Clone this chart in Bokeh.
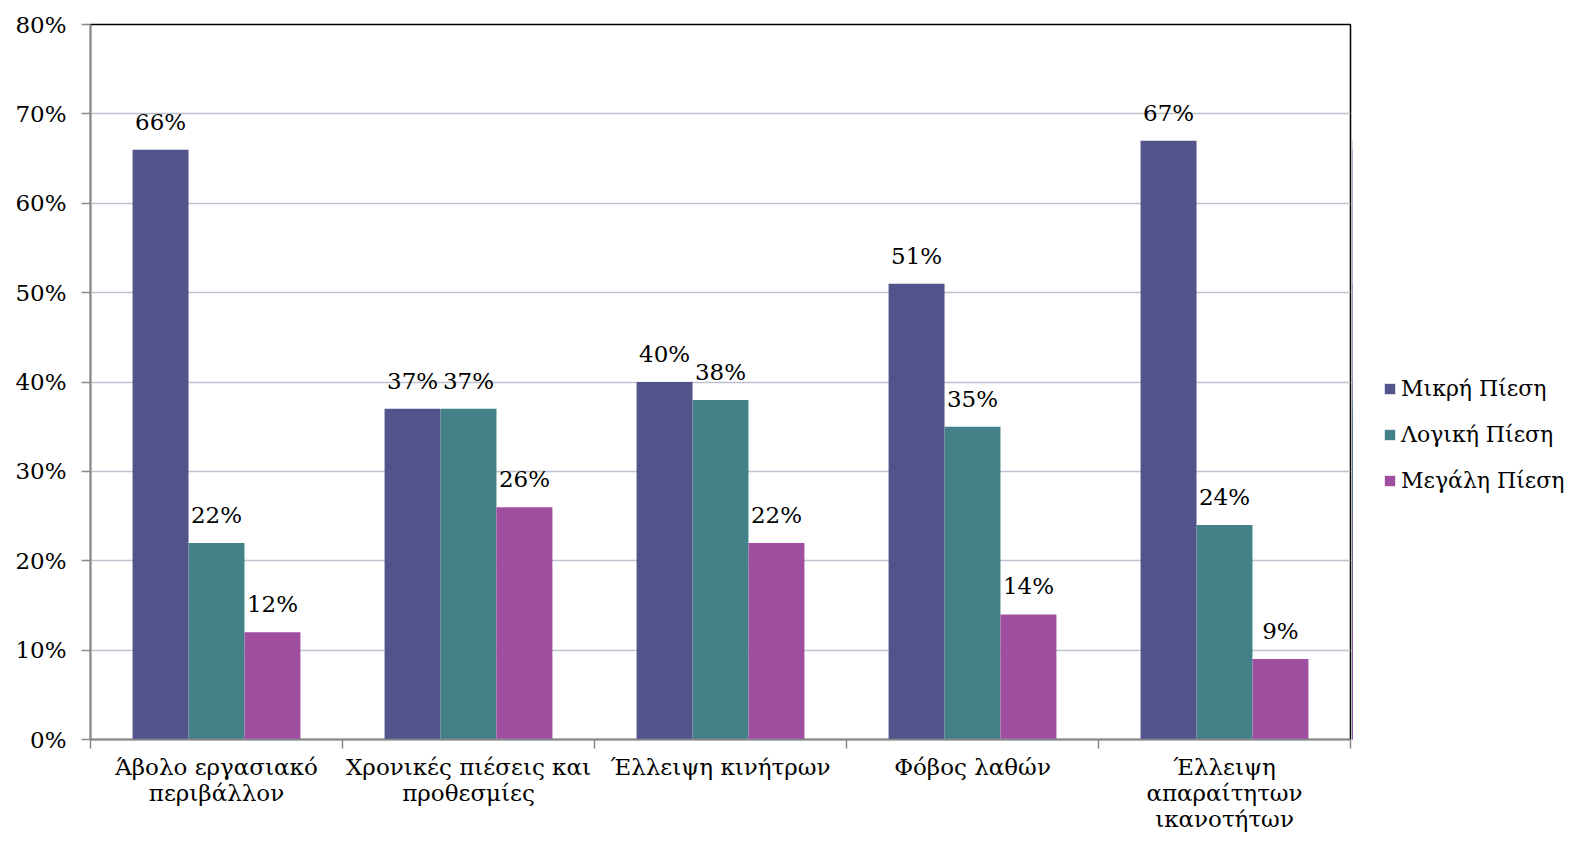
from bokeh.plotting import figure
from bokeh.layouts import row
from bokeh.models import Range1d, FixedTicker, PrintfTickFormatter, LinearAxis, Legend, LegendItem, ColumnDataSource
from bokeh.embed import file_html
from bokeh.resources import INLINE
from bokeh.core.properties import value

categories = ["Άβολο εργασιακό\nπεριβάλλον", "Χρονικές πιέσεις και\nπροθεσμίες", "Έλλειψη κινήτρων",
              "Φόβος λαθών", "Έλλειψη\nαπαραίτητων\nικανοτήτων"]
series = ["Μικρή Πίεση", "Λογική Πίεση", "Μεγάλη Πίεση"]
mikri = [66, 37, 40, 51, 67]
logiki = [22, 37, 38, 35, 24]
megali = [12, 26, 22, 14, 9]
colors = ["#52538A", "#438087", "#A04EA0"]
y_ticks = [0, 10, 20, 30, 40, 50, 60, 70, 80]

FONT = "DejaVu Serif"
FS = "23px"
H = 839
W_MAIN = 1352
W_LEG = 219

p = figure(width=W_MAIN, height=H, output_backend="svg", toolbar_location=None,
           x_range=Range1d(0, len(categories)), y_range=Range1d(0, 80),
           min_border_left=90, min_border_top=24, min_border_bottom=100, min_border_right=2)
p.background_fill_color = "white"
p.border_fill_color = "white"
p.outline_line_color = "black"
p.outline_line_width = 1.5

p.xgrid.grid_line_color = None
p.ygrid.grid_line_color = "#BEC2CE"
p.ygrid.grid_line_width = 1.5
p.ygrid.ticker = FixedTicker(ticks=y_ticks)

yax = p.yaxis[0]
yax.ticker = FixedTicker(ticks=y_ticks)
yax.formatter = PrintfTickFormatter(format="%d%%")
yax.axis_line_color = "#8A8A8A"
yax.axis_line_width = 1.5
yax.major_tick_line_color = "#8A8A8A"
yax.major_tick_line_width = 1.5
yax.major_tick_out = 9
yax.major_tick_in = 0
yax.minor_tick_line_color = None
yax.major_label_text_font = FONT
yax.major_label_text_font_size = FS
yax.major_label_text_color = "black"
yax.major_label_standoff = 15

xax = p.xaxis[0]
xax.ticker = FixedTicker(ticks=list(range(len(categories) + 1)))
xax.major_label_overrides = {i: "" for i in range(len(categories) + 1)}
xax.axis_line_color = "#8A8A8A"
xax.axis_line_width = 1.5
xax.major_tick_line_color = "#8A8A8A"
xax.major_tick_line_width = 1.5
xax.major_tick_out = 9
xax.major_tick_in = 0
xax.minor_tick_line_color = None
xax.major_label_text_font_size = "0px"
xax.major_label_standoff = 0

centers = [i + 0.5 for i in range(len(categories))]
lab = LinearAxis(ticker=FixedTicker(ticks=centers),
                 major_label_overrides={c: categories[i] for i, c in enumerate(centers)})
lab.axis_line_color = None
lab.major_tick_line_color = None
lab.minor_tick_line_color = None
lab.major_tick_out = 0
lab.major_tick_in = 0
lab.major_label_text_font = FONT
lab.major_label_text_font_size = FS
lab.major_label_text_color = "black"
lab.major_label_standoff = 5
lab.major_label_text_line_height = 1.0
p.add_layout(lab, "below")

bw = 0.222
offsets = [-bw, 0, bw]
vals = [mikri, logiki, megali]
for k, (name, v, col) in enumerate(zip(series, vals, colors)):
    src = ColumnDataSource(dict(x=[c + offsets[k] for c in centers], top=v,
                                lbl=[f"{t}%" for t in v]))
    p.vbar(x="x", top="top", width=bw, source=src, fill_color=col, line_color=None)
    p.text(x="x", y="top", text="lbl", source=src, text_align="center", text_baseline="bottom",
           y_offset=-15, text_font=value(FONT), text_font_size=FS, text_color="black")

# legend figure (same series, bars drawn outside its visible range)
q = figure(width=W_LEG, height=H, output_backend="svg", toolbar_location=None,
           x_range=Range1d(100, 101), y_range=Range1d(0, 80),
           min_border_left=0, min_border_right=0, min_border_top=0, min_border_bottom=0)
q.axis.visible = False
q.grid.grid_line_color = None
q.outline_line_color = None
q.background_fill_color = "white"
q.border_fill_color = "white"
items = []
for k, (name, v, col) in enumerate(zip(series, vals, colors)):
    r = q.vbar(x=[c + offsets[k] for c in centers], top=v, width=bw, fill_color=col, line_color=None)
    items.append(LegendItem(label=name, renderers=[r]))
legend = Legend(items=items, location=(31, 245), padding=0, margin=0,
                label_text_font=FONT, label_text_font_size="22px", label_text_color="black",
                glyph_width=13, glyph_height=13, label_height=28, spacing=18, label_standoff=5,
                border_line_color=None, background_fill_alpha=0)
q.add_layout(legend)

layout = row(p, q, spacing=0)
open("out.html", "w").write(file_html(layout, INLINE))
